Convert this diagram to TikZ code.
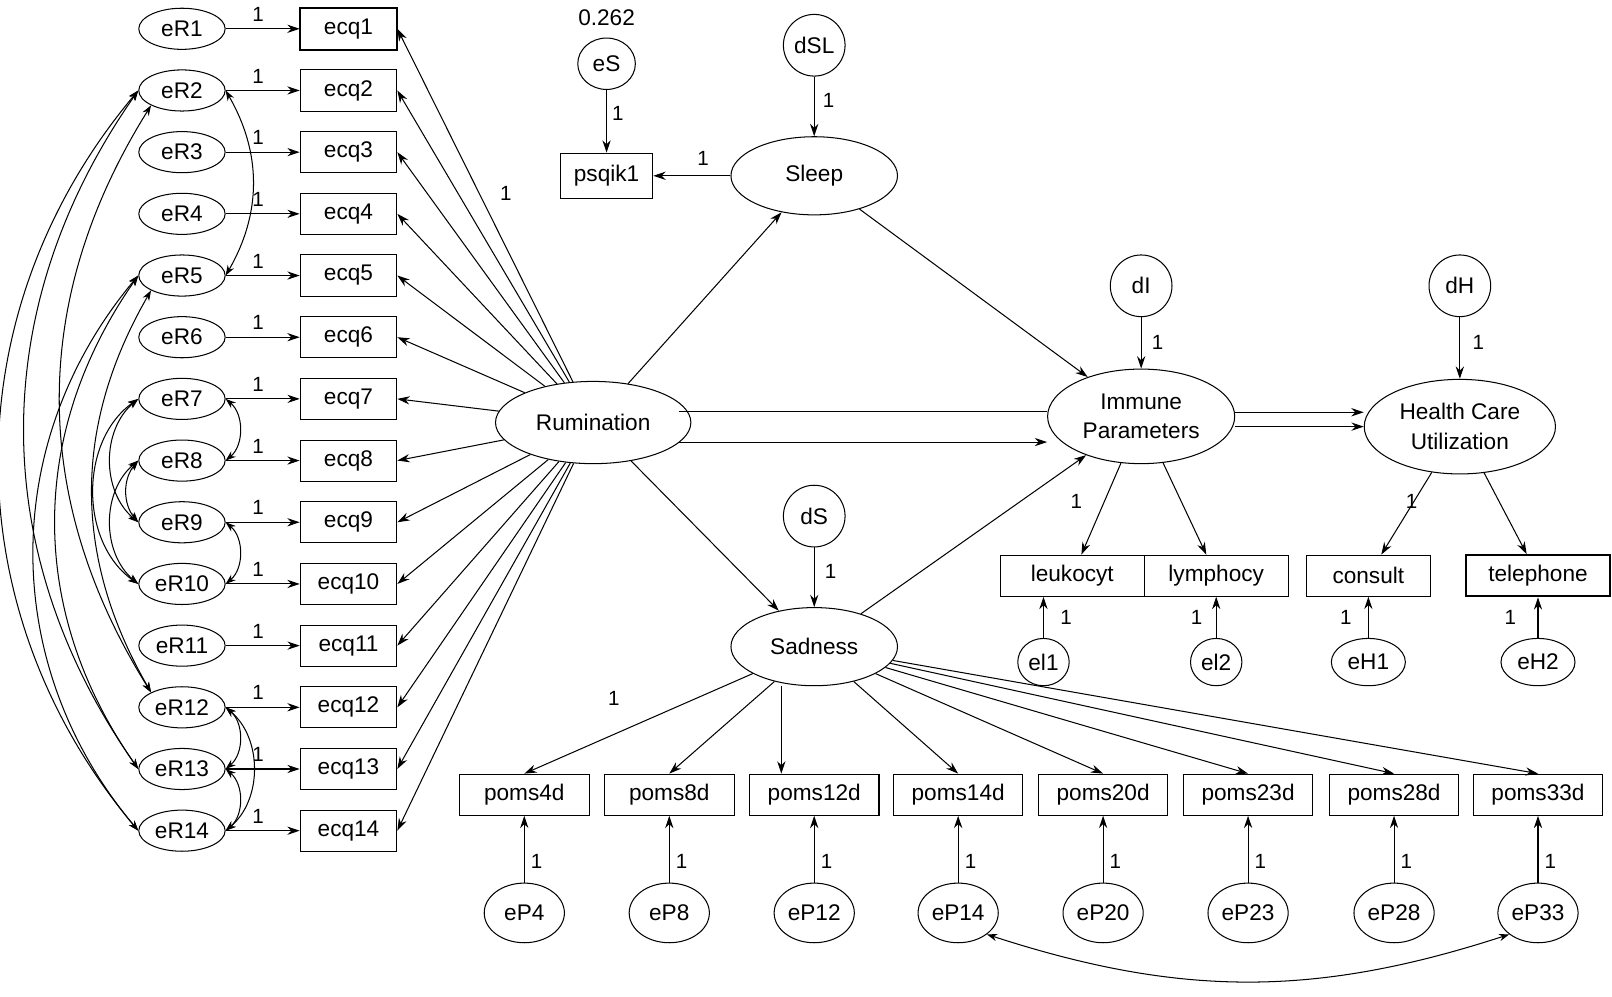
\documentclass[tikz,border=0pt]{standalone}
\usepackage{fontspec}
\setmainfont{Liberation Sans}
\usetikzlibrary{arrows.meta,shapes.geometric}
\begin{document}
\begin{tikzpicture}[x=1pt,y=-1pt,font=\fontsize{22}{25}\selectfont,
 every node/.style={inner sep=0pt},
 el/.style={ellipse,draw,line width=1pt,fill=white,minimum width=84pt,minimum height=40pt},
 bx/.style={rectangle,draw,line width=1pt,fill=white,minimum height=40pt},
 lat/.style={ellipse,draw,line width=1pt,fill=white,align=center},
 ar/.style={-{Stealth[length=12pt,width=8pt]},line width=1pt},
 ar2/.style={{Stealth[length=10pt,width=7pt]}-{Stealth[length=10pt,width=7pt]},line width=1pt},
 lb/.style={font=\fontsize{20}{22}\selectfont}]
\useasboundingbox (0,0) rectangle (1568,969);
% left column
\foreach \i in {1,...,14}{
  \pgfmathsetmacro\yy{28+60*(\i-1)}
  \node[el] (eR\i) at (177,\yy) {eR\i};
  \node[bx,minimum width=94pt] (q\i) at (339,\yy) {ecq\i};
  \draw[ar] (eR\i) -- (q\i);
  \node[lb] at (251,\yy-14) {1};
}
\draw[line width=2pt] (q1.south west) rectangle (q1.north east);
% Rumination
\node[lat,minimum width=190pt,minimum height=80pt] (R) at (577,411) {Rumination};
\foreach \i in {1,...,14}{ \draw[ar] (R) -- (q\i.east); }
\node[lb] at (492,188) {1};
% covariances left
\draw[ar2] (eR2.east) to[bend left=30] (eR5.east);
\draw[ar2] (eR7.east) to[bend left=50] (eR8.east);
\draw[ar2] (eR9.east) to[bend left=50] (eR10.east);
\draw[ar2] (eR12.east) to[bend left=50] (eR13.east);
\draw[ar2] (eR13.east) to[bend left=50] (eR14.east);
\draw[ar2] (eR12.east) to[bend left=50] (eR14.east);
\draw[ar2] (eR7.west) to[bend right=50] (eR9.west);
\draw[ar2] (eR7.west) to[bend right=55] (eR10.west);
\draw[ar2] (eR8.west) to[bend right=50] (eR10.west);
\draw[ar2] (eR8.west) to[bend right=40] (eR9.west);
\draw[ar2] (eR2.west) to[bend right=40] (eR14.west);
\draw[ar2] (eR2.west) to[bend right=35] (eR13.west);
\draw[ar2] (eR2.south west) to[bend right=32] (eR12.north west);
\draw[ar2] (eR5.west) to[bend right=40] (eR14.west);
\draw[ar2] (eR5.west) to[bend right=35] (eR13.west);
\draw[ar2] (eR5.south west) to[bend right=30] (eR12.north west);
% Sleep
\node[lat,minimum width=162pt,minimum height=76pt] (SL) at (792,171) {Sleep};
\node[lat,minimum width=60pt,minimum height=60pt] (dSL) at (792,44) {dSL};
\draw[ar] (dSL) -- (SL); \node[lb] at (806,98) {1};
\node[bx,minimum width=90pt,minimum height=44pt] (ps) at (590,171) {psqik1};
\node[lat,minimum width=56pt,minimum height=50pt] (eS) at (590,62) {eS};
\node at (590,17) {0.262};
\draw[ar] (eS) -- (ps); \node[lb] at (601,110) {1};
\draw[ar] (SL) -- (ps); \node[lb] at (684,154) {1};
% Sadness
\node[lat,minimum width=162pt,minimum height=76pt] (SA) at (792,629) {Sadness};
\node[lat,minimum width=60pt,minimum height=60pt] (dS) at (792,502) {dS};
\draw[ar] (dS) -- (SA); \node[lb] at (808,556) {1};
% Immune & Health
\node[lat,minimum width=182pt,minimum height=92pt] (IM) at (1110,405) {Immune\\[4pt]Parameters};
\node[lat,minimum width=60pt,minimum height=60pt] (dI) at (1110,278) {dI};
\draw[ar] (dI) -- (IM); \node[lb] at (1126,333) {1};
\node[lat,minimum width=186pt,minimum height=92pt] (HC) at (1420,415) {Health Care\\[4pt]Utilization};
\node[lat,minimum width=60pt,minimum height=60pt] (dH) at (1420,278) {dH};
\draw[ar] (dH) -- (HC); \node[lb] at (1438,333) {1};
% structural paths
\draw[ar] (R) -- (SL);
\draw[ar] (R) -- (SA);
\draw[ar] (SL) -- (IM);
\draw[ar] (SA) -- (IM);
\begin{scope}[on background layer/.style={}]
\end{scope}
\coordinate (r1) at (660,400); \coordinate (r2) at (660,430);
\draw[line width=1pt] (r1) -- (IM.west |- r1);
\draw[ar] (r2) -- (IM.west |- r2);
\draw[ar] (IM.east |- 0,401) -- (HC.west |- 0,401);
\draw[ar] (IM.east |- 0,415) -- (HC.west |- 0,415);
% immune indicators
\node[bx,minimum width=140pt] (le) at (1043,560) {leukocyt};
\node[bx,minimum width=140pt] (ly) at (1183,560) {lymphocy};
\draw[ar] (IM) -- (le); \draw[ar] (IM) -- (ly); \node[lb] at (1047,488) {1};
\node[lat,minimum width=50pt,minimum height=46pt] (el1) at (1015,644) {el1};
\node[lat,minimum width=50pt,minimum height=46pt] (el2) at (1183,644) {el2};
\draw[ar] (el1) -- (el1 |- le.south); \node[lb] at (1037,601) {1};
\draw[ar] (el2) -- (el2 |- ly.south); \node[lb] at (1164,601) {1};
% health indicators
\node[bx,minimum width=120pt] (co) at (1331,560) {consult};
\node[bx,minimum width=140pt,line width=2pt] (te) at (1496,560) {telephone};
\draw[ar] (HC) -- (co); \draw[ar] (HC) -- (te); \node[lb] at (1373,488) {1};
\node[lat,minimum width=72pt,minimum height=46pt] (eH1) at (1331,644) {eH1};
\node[lat,minimum width=72pt,minimum height=46pt] (eH2) at (1496,644) {eH2};
\draw[ar] (eH1) -- (co); \node[lb] at (1309,601) {1};
\draw[ar] (eH2) -- (te); \node[lb] at (1469,601) {1};
% poms
\foreach \n/\x in {4/510,8/651,12/792,14/932,20/1073,23/1214,28/1356,33/1496}{
  \node[bx,minimum width=126pt] (p\n) at (\x,773) {poms\n d};
  \node[lat,minimum width=78pt,minimum height=58pt] (eP\n) at (\x,888) {eP\n};
  \draw[ar] (eP\n) -- (p\n);
  \node[lb] at (\x+12,838) {1};
}
\draw[ar] (SA) -- (p4.north); \node[lb] at (597,679) {1};
\draw[ar] (SA) -- (p8.north);
\draw[ar] (SA.south -| 760,0) -- (p12.north -| 760,0);
\draw[ar] (SA) -- (p14.north);
\foreach \n in {20,23,28,33}{ \draw[ar] (SA) -- (p\n.north); }
\draw[ar2] (eP14.south east) to[bend right=18] (eP33.south west);
\end{tikzpicture}
\end{document}
